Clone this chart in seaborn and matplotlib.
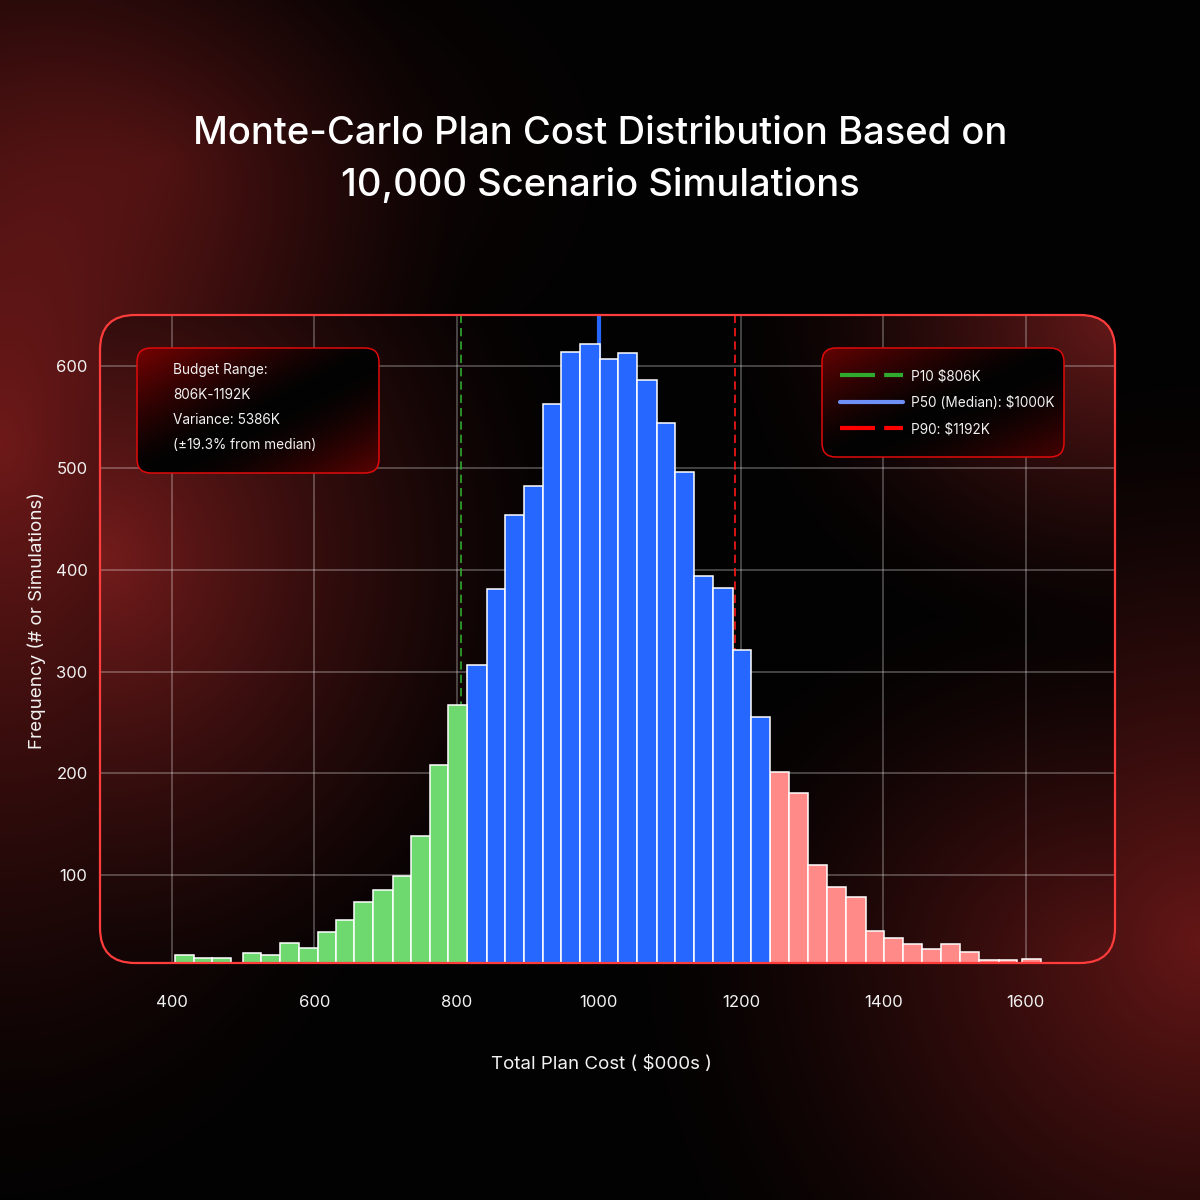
import numpy as np
import pandas as pd
import matplotlib.pyplot as plt
import seaborn as sns
from matplotlib.patches import FancyBboxPatch
from matplotlib.lines import Line2D

# ---- data ----
bin_left = [404, 431, 456, 499, 525, 551, 578, 605, 631, 656, 683, 710, 736, 762, 788,
            815, 842, 868, 895, 922, 947, 974, 1001, 1027, 1054, 1081, 1107, 1134, 1161, 1188, 1214,
            1241, 1268, 1294, 1321, 1348, 1375, 1401, 1428, 1455, 1481, 1508, 1535, 1562, 1595]
bin_width = 26.6
green_counts = [21, 19, 19, 23, 21, 33, 28, 44, 56, 74, 85, 99, 138, 208, 267]
blue_counts = [306, 381, 454, 482, 563, 614, 622, 607, 613, 586, 544, 496, 394, 382, 321, 255]
pink_counts = [201, 181, 110, 88, 78, 45, 38, 32, 27, 32, 24, 17, 17, 18]
x_ticks = [400, 600, 800, 1000, 1200, 1400, 1600]
y_ticks = [100, 200, 300, 400, 500, 600]
p10, p50, p90 = 806, 1000, 1192
legend_labels = ['P10 $806K', 'P50 (Median): $1000K', 'P90: $1192K']
info_lines = ['Budget Range:', '806K-1192K', 'Variance: 5386K', '(\u00b119.3% from median)']
title = 'Monte-Carlo Plan Cost Distribution Based on\n10,000 Scenario Simulations'

GREEN = '#6dd96e'
BLUE = '#2667ff'
PINK = '#ff8a88'

sns.set_theme(style='dark')
plt.rcParams['font.family'] = ['Inter', 'DejaVu Sans']
plt.rcParams['text.color'] = 'white'

# build contiguous edges (gaps become empty bins)
edges = []
for i, left in enumerate(bin_left):
    if not edges or abs(edges[-1] - left) > 1.5:
        edges.append(left)
    nxt = bin_left[i + 1] if i + 1 < len(bin_left) else None
    if nxt is None or nxt - left > bin_width + 1.5:
        edges.append(left + bin_width)
    else:
        edges.append(nxt)
edges = sorted(set(edges))
centers = []
for left in bin_left:
    right = min(e for e in edges if e > left + 1)
    centers.append((left + right) / 2)

counts = green_counts + blue_counts + pink_counts
band = ['low'] * len(green_counts) + ['core'] * len(blue_counts) + ['high'] * len(pink_counts)
df = pd.DataFrame({'cost': centers, 'count': counts, 'band': band})


def glow(w, h, spots, base=(0.015, 0.008, 0.008)):
    yy, xx = np.mgrid[0:h, 0:w]
    img = np.zeros((h, w, 3)) + np.array(base)
    for cx, cy, rx, ry, col in spots:
        d = np.sqrt(((xx - cx) / rx) ** 2 + ((yy - cy) / ry) ** 2)
        a = np.clip(1 - d, 0, 1) ** 1.4
        img += a[..., None] * np.array(col)
    return np.clip(img, 0, 1)


def diag(w, h, c1, c2):
    yy, xx = np.mgrid[0:h, 0:w]
    t = (xx / w + yy / h) / 2
    a = np.clip(1 - t * 2.0, 0, 1) ** 1.3
    b = np.clip((t - 0.55) * 2.2, 0, 1) ** 1.5
    img = a[..., None] * np.array(c1) + b[..., None] * np.array(c2)
    return np.clip(img + 0.01, 0, 1)


fig = plt.figure(figsize=(12, 12), dpi=100)

# background layer (pixel coordinates)
ax_bg = fig.add_axes([0, 0, 1, 1], zorder=0)
ax_bg.set_xlim(0, 1200)
ax_bg.set_ylim(1200, 0)
ax_bg.axis('off')
bg = glow(300, 300, [(0, 110, 120, 190, (0.42, 0.09, 0.09)),
                     (300, 235, 140, 140, (0.38, 0.08, 0.08)),
                     (40, 40, 110, 70, (0.14, 0.03, 0.03))])
ax_bg.imshow(bg, extent=(0, 1200, 1200, 0), interpolation='bilinear', aspect='auto')

box = FancyBboxPatch((100, 315), 1015, 648, boxstyle='round,pad=0,rounding_size=35',
                     transform=ax_bg.transData, facecolor='none', edgecolor='none')
ax_bg.add_patch(box)
inner = glow(254, 162, [(0, 60, 120, 130, (0.44, 0.1, 0.1)),
                        (254, 0, 95, 85, (0.38, 0.09, 0.09)),
                        (254, 162, 115, 95, (0.33, 0.07, 0.07))])
im = ax_bg.imshow(inner, extent=(100, 1115, 963, 315), interpolation='bilinear', aspect='auto')
im.set_clip_path(box)
ax_bg.set_xlim(0, 1200)
ax_bg.set_ylim(1200, 0)

# main histogram axes
ax = fig.add_axes([100 / 1200, 1 - 963 / 1200, 1015 / 1200, 648 / 1200], zorder=2)
ax.set_facecolor('none')
ax.axvline(p10, color='#2faa2f', lw=1.2, ls=(0, (5, 3)), zorder=2)
ax.axvline(p50, color=BLUE, lw=3, zorder=2)
ax.axvline(p90, color='#ff1a1a', lw=1.2, ls=(0, (5, 3)), zorder=2)
sns.histplot(data=df, x='cost', weights='count', hue='band', bins=edges,
             hue_order=['low', 'core', 'high'], palette=[GREEN, BLUE, PINK],
             multiple='layer', alpha=1, edgecolor='white', linewidth=1.1,
             legend=False, ax=ax, zorder=3)
ax.set_xlim(298.5, 1725.7)
ax.set_ylim(13.6, 650.3)
ax.set_xticks(x_ticks)
ax.set_yticks(y_ticks)
ax.grid(True, color='white', alpha=0.3, lw=1.2)
ax.set_axisbelow(True)
for s in ax.spines.values():
    s.set_visible(False)
ax.tick_params(axis='both', length=0, labelsize=12, labelcolor='#f2f2f2')
ax.tick_params(axis='x', pad=23)
ax.tick_params(axis='y', pad=9)
ax.set_xlabel('Total Plan Cost ( $000s )', fontsize=13.5, color='#f2f2f2')
ax.set_ylabel('Frequency (# or Simulations)', fontsize=13.5, color='#f2f2f2')
ax.xaxis.set_label_coords(0.4936, -0.143)
ax.yaxis.set_label_coords(-0.053, 0.529)

# overlay layer for boxes and border
ax_top = fig.add_axes([0, 0, 1, 1], zorder=5)
ax_top.set_facecolor('none')
ax_top.set_xlim(0, 1200)
ax_top.set_ylim(1200, 0)
ax_top.axis('off')
ax_top.add_patch(FancyBboxPatch((100, 315), 1015, 648, boxstyle='round,pad=0,rounding_size=35',
                                facecolor='none', edgecolor='#ff3c3c', lw=1.6))

for (bx, by, bw, bh, c1, c2) in [(137, 348, 242, 125, (0.45, 0.0, 0.0), (0.36, 0.0, 0.0)),
                                 (822, 348, 242, 109, (0.38, 0.0, 0.0), (0.28, 0.0, 0.0))]:
    p = FancyBboxPatch((bx, by), bw, bh, boxstyle='round,pad=0,rounding_size=14',
                       facecolor='none', edgecolor='#e00a0a', lw=1.1, zorder=3)
    ax_top.add_patch(p)
    g = ax_top.imshow(diag(121, 62, c1, c2), extent=(bx, bx + bw, by + bh, by),
                      interpolation='bilinear', aspect='auto', zorder=2)
    g.set_clip_path(p)
ax_top.set_xlim(0, 1200)
ax_top.set_ylim(1200, 0)

for i, line in enumerate(info_lines):
    ax_top.text(173, 370 + i * 25, line, fontsize=9.8, color='#f2f2f2', va='center', ha='left', zorder=4)

handles = [Line2D([], [], color='#2faa2f', lw=3, ls=(0, (8.4, 2.2))),
           Line2D([], [], color='#6e8ff5', lw=3),
           Line2D([], [], color='#ff0000', lw=3, ls=(0, (8.4, 2.2)))]
leg = ax_top.legend(handles, legend_labels, loc='upper left', bbox_to_anchor=(840 / 1200, 1 - 369 / 1200),
                    bbox_transform=fig.transFigure, frameon=False, fontsize=9.8, handlelength=4.6,
                    handletextpad=0.65, labelspacing=0.92, borderpad=0, borderaxespad=0)
for t in leg.get_texts():
    t.set_color('#f2f2f2')
leg.set_zorder(6)

fig.text(0.5, 1 - 160 / 1200, title, ha='center', va='center', fontsize=27.5, weight='medium',
         color='white', linespacing=1.56)

fig.savefig('out.png', dpi=100)
